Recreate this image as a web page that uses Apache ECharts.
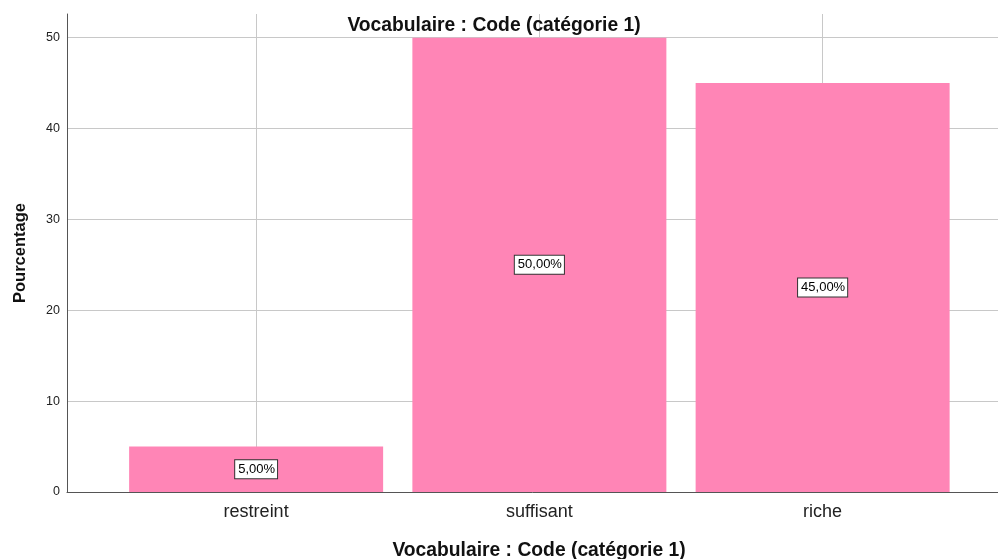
<!DOCTYPE html>
<html><head><meta charset="utf-8">
<script src="https://cdn.jsdelivr.net/npm/echarts@6/dist/echarts.min.js"></script>
<style>html,body{margin:0;padding:0;background:#fff}#c{width:998px;height:559px}</style>
</head><body><div id="c"></div>
<script>
const categories = ['restreint', 'suffisant', 'riche'];
const percentages = [5, 50, 45];
const yTicks = [0, 10, 20, 30, 40, 50];
const chartTitle = 'Vocabulaire : Code (catégorie 1)';
const xTitle = 'Vocabulaire : Code (catégorie 1)';
const yTitle = 'Pourcentage';

const fmt = v => v.toFixed(2).replace('.', ',') + '%';
const chart = echarts.init(document.getElementById('c'), null, {renderer: 'canvas'});
const font = '"Liberation Sans", Arial, sans-serif';
chart.setOption({
  animation: false,
  textStyle: {fontFamily: font},
  title: [
    {text: chartTitle, left: 489, textAlign: 'center', top: 11, textStyle: {fontSize: 19.3, fontWeight: 'bold', color: '#111', fontFamily: font}},
    {text: xTitle, left: 534, textAlign: 'center', top: 536, textStyle: {fontSize: 19.3, fontWeight: 'bold', color: '#111', fontFamily: font}}
  ],
  grid: [
    {left: 67, right: 0, top: 14, bottom: 67},
    {left: 114.5, width: 849.75, top: 14, bottom: 67}
  ],
  xAxis: [
    {gridIndex: 0, type: 'value', min: 0, max: 1, axisLine: {show: true, onZero: false, lineStyle: {color: '#555', width: 1}},
     axisTick: {show: false}, axisLabel: {show: false}, splitLine: {show: false}},
    {gridIndex: 1, type: 'category', data: categories, axisLine: {show: false}, axisTick: {show: false},
     axisLabel: {fontSize: 18, color: '#222', margin: 11, fontFamily: font}, splitLine: {show: false}}
  ],
  yAxis: [
    {gridIndex: 0, type: 'value', min: 0, max: 52.6, interval: 10,
     axisLine: {show: true, lineStyle: {color: '#555', width: 1}}, axisTick: {show: false},
     axisLabel: {fontSize: 12.5, color: '#222', margin: 7, fontFamily: font, showMaxLabel: false,
       formatter: v => yTicks.includes(v) ? String(v) : ''},
     splitLine: {show: true, showMaxLine: false, lineStyle: {color: '#c8c8c8', width: 1}},
     name: yTitle, nameLocation: 'middle', nameGap: 38, nameRotate: 90,
     nameTextStyle: {fontSize: 16.5, fontWeight: 'bold', color: '#111', fontFamily: font}},
    {gridIndex: 1, type: 'value', min: 0, max: 52.6, show: false}
  ],
  series: [
    {type: 'line', xAxisIndex: 1, yAxisIndex: 1, data: [], z: 1, silent: true,
     markLine: {silent: true, z: 1, symbol: 'none', label: {show: false},
       lineStyle: {color: '#c8c8c8', width: 1, type: 'solid'},
       data: categories.map((c, i) => ({xAxis: i}))}},
    {type: 'bar', xAxisIndex: 1, yAxisIndex: 1, data: percentages, barWidth: 254, z: 3,
     itemStyle: {color: '#ff85b6'},
     label: {show: true, position: 'inside', formatter: p => fmt(p.value),
       fontSize: 13, color: '#000', fontFamily: font, backgroundColor: '#fff',
       borderColor: '#333', borderWidth: 1, padding: [3, 2, 2, 3]}}
  ]
});
</script></body></html>
